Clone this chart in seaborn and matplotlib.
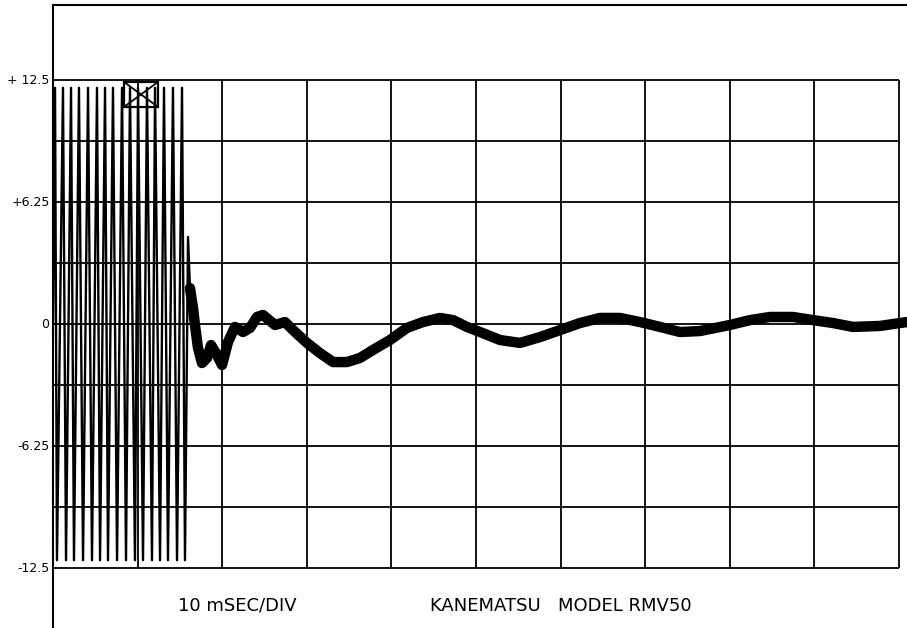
import numpy as np
import pandas as pd
import matplotlib
matplotlib.use("Agg")
import matplotlib.pyplot as plt
import seaborn as sns
from matplotlib.patches import Rectangle

# ---- data (time in ms, amplitude in chart units) ----
burst_top_t = [0.24, 1.18, 2.13, 3.07, 4.14, 5.20, 6.15, 7.09, 8.16, 9.10,
               10.05, 11.11, 12.06, 13.12, 14.18, 15.25]
burst_bot_t = [0.47, 1.54, 2.48, 3.55, 4.61, 5.56, 6.50, 7.57, 8.63, 9.69,
               10.64, 11.70, 12.65, 13.59, 14.66, 15.60]
burst_top_v = 12.1
burst_bot_v = -12.1
spike_t = [15.60, 15.96, 16.19]
spike_v = [-12.1, 4.46, 1.84]

decay_t = [16.19, 16.55, 16.78, 17.14, 17.61, 18.20, 18.68, 19.38, 19.98, 20.69,
           21.51, 22.46, 23.29, 24.11, 24.82, 26.24, 27.42, 28.37, 30.02, 31.56,
           33.10, 34.75, 36.29, 37.82, 39.83, 41.84, 43.73, 45.74, 47.28, 48.93,
           50.47, 52.84, 55.20, 57.56, 59.93, 62.29, 64.66, 67.02, 69.38, 71.75,
           74.11, 76.48, 80.02, 82.39, 84.75, 87.47, 89.83, 92.20, 94.56, 97.75,
           100.12, 100.94]
decay_v = [1.84, 0.82, -0.05, -1.23, -2.00, -1.74, -1.08, -1.59, -2.10, -0.92,
           -0.15, -0.41, -0.20, 0.36, 0.46, -0.05, 0.10, -0.31, -0.97, -1.49,
           -1.95, -1.95, -1.74, -1.33, -0.82, -0.20, 0.10, 0.31, 0.20, -0.15,
           -0.41, -0.82, -0.97, -0.67, -0.31, 0.05, 0.31, 0.31, 0.10, -0.15,
           -0.41, -0.36, -0.05, 0.20, 0.36, 0.36, 0.20, 0.05, -0.15, -0.10,
           0.05, 0.10]

y_tick_vals = [12.5, 6.25, 0, -6.25, -12.5]
y_tick_labels = ["+ 12.5", "+6.25", "0", "-6.25", "-12.5"]
x_label_text = "10 mSEC/DIV"
model_text = "KANEMATSU   MODEL RMV50"

# ---- build burst series ----
bt, bv = [0.0], [0.0]
for a, b in zip(burst_top_t, burst_bot_t):
    bt += [a, b]
    bv += [burst_top_v, burst_bot_v]
bt += spike_t[1:]
bv += spike_v[1:]
burst_df = pd.DataFrame({"t": bt, "v": bv})
decay_df = pd.DataFrame({"t": decay_t, "v": decay_v})

sns.set_theme(style="white")
plt.rcParams['font.family'] = ['DejaVu Sans']
plt.rcParams['text.color'] = 'black'

W, H = 907, 628
fig = plt.figure(figsize=(W / 100, H / 100), dpi=100)
fig.patch.set_facecolor("white")
ax = fig.add_axes([53 / W, 0, 1 - 53 / W, 1 - 5 / H])
ax.set_facecolor("white")

div_px_x = 84.6
div_px_y = 61.0
xmax = (W - 53) / div_px_x * 10
ymax = 12.5 + (80 - 5) / div_px_y * 3.125
ymin = -12.5 - (H - 568) / div_px_y * 3.125
ax.set_xlim(0, xmax)
ax.set_ylim(ymin, ymax)

# grid
ys = [12.5 - k * 3.125 for k in range(9)]
xs = [k * 10 for k in range(11)]
ax.hlines(ys, 0, 100, colors="black", lw=1.3, zorder=1)
ax.vlines(xs[1:], -12.5, 12.5, colors="black", lw=1.3, zorder=1)

# traces
sns.lineplot(data=burst_df, x="t", y="v", sort=False, estimator=None,
             color="black", lw=1.7, ax=ax, zorder=3)
sns.lineplot(data=decay_df, x="t", y="v", sort=False, estimator=None,
             color="black", lw=7.5, ax=ax, zorder=3,
             solid_capstyle="round", solid_joinstyle="round")

# trigger marker box with X
bx0, bx1, by0, by1 = 8.39, 12.41, 11.12, 12.40
ax.add_patch(Rectangle((bx0, by0), bx1 - bx0, by1 - by0, fill=False,
                       ec="black", lw=1.6, zorder=4))
ax.plot([bx0, bx1], [by0, by1], color="black", lw=1.3, zorder=4)
ax.plot([bx0, bx1], [by1, by0], color="black", lw=1.3, zorder=4)

# spines
for s in ["right", "bottom"]:
    ax.spines[s].set_visible(False)
for s in ["left", "top"]:
    ax.spines[s].set_visible(True)
    ax.spines[s].set_color("black")
    ax.spines[s].set_linewidth(1.5)
ax.set_xticks([])
ax.set_yticks([])
ax.set_xlabel("")
ax.set_ylabel("")

# y labels (hand-lettered)
for val, lab in zip(y_tick_vals, y_tick_labels):
    ax.text(-0.4, val, lab, ha="right", va="center", fontsize=9,
            color="black", clip_on=False)

fig.text(178 / W, 1 - 606 / H, x_label_text, ha="left", va="center",
         fontsize=13, color="black")
fig.text(430 / W, 1 - 606 / H, model_text, ha="left", va="center",
         fontsize=13, color="black")

fig.savefig("out.png", dpi=100, facecolor="white")
